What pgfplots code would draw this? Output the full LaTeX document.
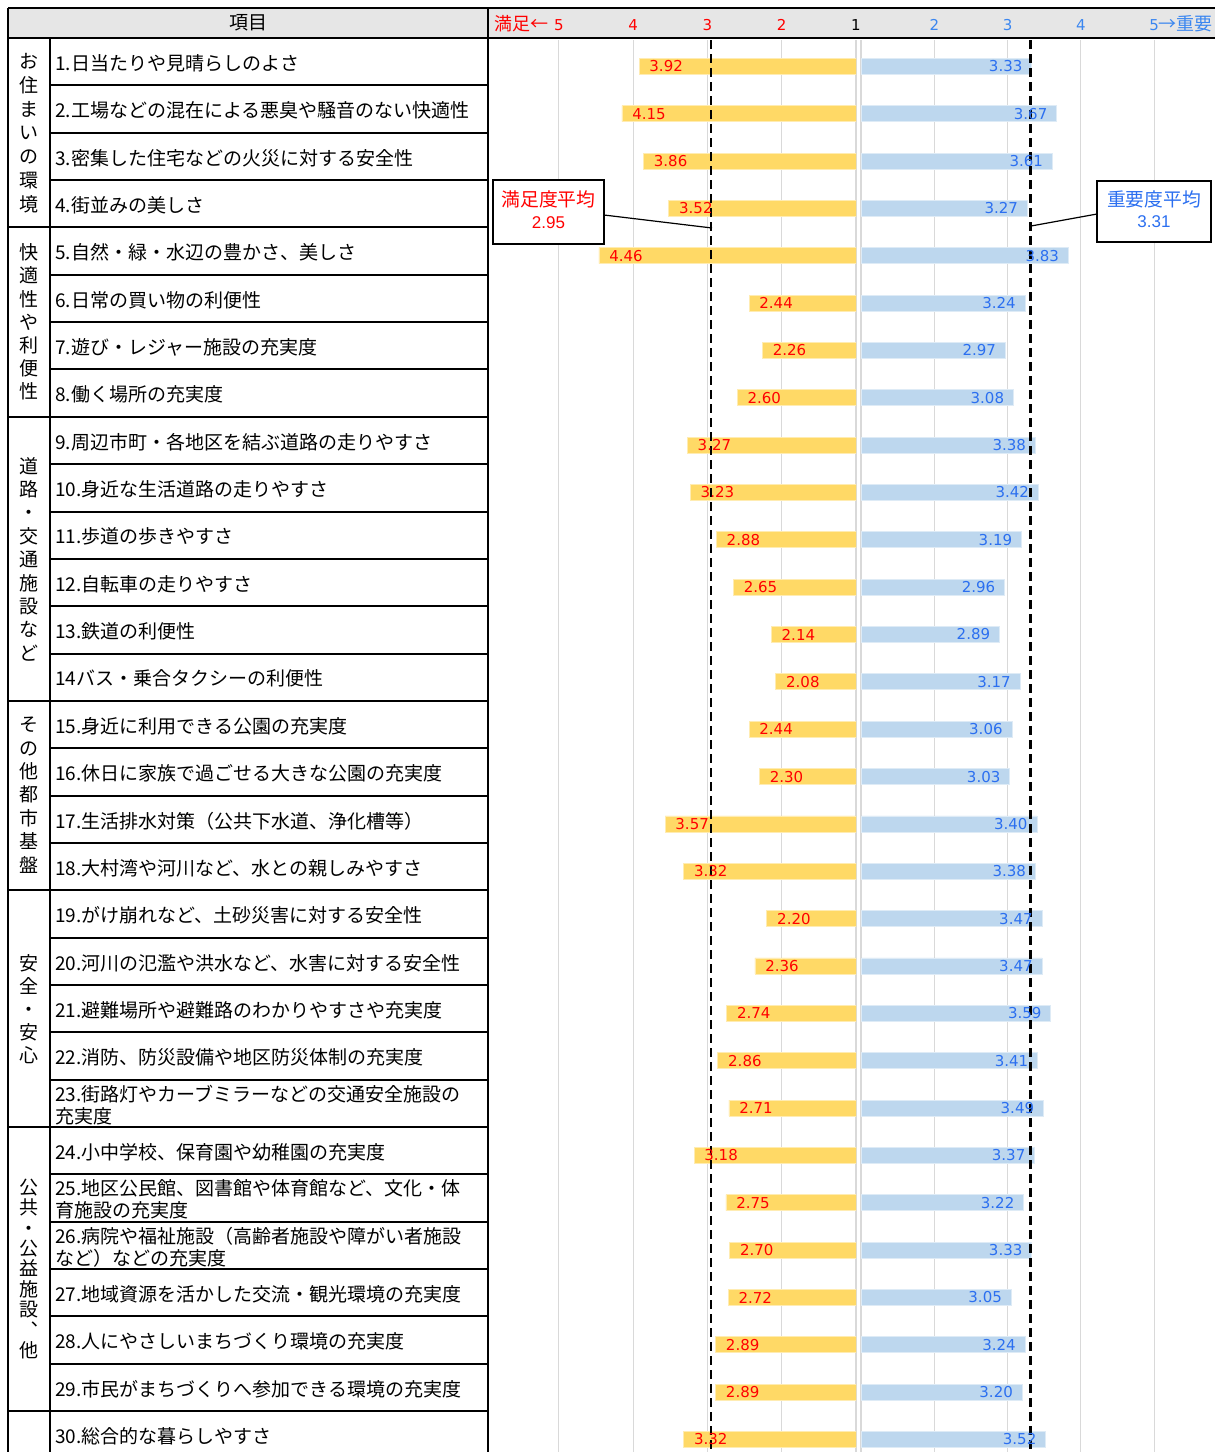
\documentclass[border=0pt]{standalone}
\usepackage{pgfplots}
\pgfplotsset{compat=1.18}
\usepackage{pgfplotstable}
\usepackage{fontspec}
\setmainfont{Noto Sans CJK JP}
\newfontfamily\numfont{DejaVu Sans}
\newfontfamily\arialfont{Liberation Sans}
\definecolor{barY}{HTML}{FFD966}
\definecolor{barB}{HTML}{BDD7EE}
\definecolor{txtR}{HTML}{FF0000}
\definecolor{txtB}{HTML}{2B6FF0}
\definecolor{tickB}{HTML}{3A86F0}
\definecolor{hdr}{HTML}{E6E6E6}
\definecolor{grd}{HTML}{D9D9D9}

\pgfplotstableread{
row sat imp
1 3.92 3.33
2 4.15 3.67
3 3.86 3.61
4 3.52 3.27
5 4.46 3.83
6 2.44 3.24
7 2.26 2.97
8 2.60 3.08
9 3.27 3.38
10 3.23 3.42
11 2.88 3.19
12 2.65 2.96
13 2.14 2.89
14 2.08 3.17
15 2.44 3.06
16 2.30 3.03
17 3.57 3.40
18 3.32 3.38
19 2.20 3.47
20 2.36 3.47
21 2.74 3.59
22 2.86 3.41
23 2.71 3.49
24 3.18 3.37
25 2.75 3.22
26 2.70 3.33
27 2.72 3.05
28 2.89 3.24
29 2.89 3.20
30 3.32 3.52
}\data

\pgfplotsset{
  chartbase/.style={
    scale only axis, anchor=north west, height=706pt,
    ymin=0.4446, ymax=30.265, y dir=reverse,
    xmin=1, ytick=\empty,
    axis line style={draw=none}, tick style={draw=none},
    xticklabel pos=upper, xtick={1,2,3,4,5},
    xmajorgrids, major grid style={grd, line width=0.6pt},
    /pgf/number format/assume math mode=true,
    xticklabel style={font=\numfont\fontsize{7.5}{8}\selectfont, anchor=base, yshift=4.8pt},
  }
}

\begin{document}
\begin{tikzpicture}[x=0.5pt,y=-0.5pt]
\useasboundingbox (0,0) rectangle (1215,1452);
\fill[hdr] (8,8) rectangle (1215,38);
\coordinate (LA) at (488,40);
\coordinate (RA) at (861,40);

\begin{axis}[chartbase, at={(LA)}, width=184pt, xmax=5.953, x dir=reverse,
  xticklabels={{\color{black}1},2,3,4,{\llap{\rmfamily\fontsize{9}{9}\selectfont 満足←\hspace{3pt}}5}},
  xticklabel style={text=txtR}]
\addplot[xbar, bar width=8pt, fill=barY, draw=barY!50!white, line width=0.4pt,
  point meta=x,
  nodes near coords={\pgfmathprintnumber[fixed,fixed zerofill,precision=2]{\pgfplotspointmeta}},
  every node near coord/.append style={anchor=west, inner sep=0pt, xshift=5pt, text=txtR, font=\numfont\fontsize{7.5}{8}\selectfont}]
  table[x=sat, y=row]{\data};
\addplot[black, line width=1.3pt, dash pattern=on 4.5pt off 2.5pt] coordinates {(2.95,0.4446) (2.95,30.265)};
\end{axis}

\begin{axis}[chartbase, at={(RA)}, width=177pt, xmax=5.83,
  xticklabels={{},2,3,4,{5\rlap{\rmfamily\fontsize{9}{9}\selectfont →重要}}},
  xticklabel style={text=tickB}]
\addplot[xbar, bar width=8pt, fill=barB, draw=barB!50!white, line width=0.4pt,
  point meta=x,
  nodes near coords={\pgfmathprintnumber[fixed,fixed zerofill,precision=2]{\pgfplotspointmeta}},
  every node near coord/.append style={anchor=east, inner sep=0pt, xshift=-4.5pt, text=txtB, font=\numfont\fontsize{7.5}{8}\selectfont}]
  table[x=imp, y=row]{\data};
\addplot[black, line width=1.3pt, dash pattern=on 4.5pt off 2.5pt] coordinates {(3.31,0.4446) (3.31,30.265)};
\end{axis}

% table lines
\draw[line width=1pt] (8,8) -- (1215,8);
\draw[line width=1.2pt] (8,38) -- (1215,38);
\draw[line width=1pt] (8,8) -- (8,1452);
\draw[line width=1pt] (50,38) -- (50,1452);
\draw[line width=1pt] (488,8) -- (488,1452);
\foreach \k in {1,...,29} \draw[line width=1pt] (50,{38+\k*47.35}) -- (488,{38+\k*47.35});
\foreach \k in {4,8,14,18,23,29} \draw[line width=1pt] (8,{38+\k*47.35}) -- (50,{38+\k*47.35});

\node[font=\fontsize{9.5}{11}\selectfont] at (248,23) {項目};

\foreach \i/\t in {
1/{1.日当たりや見晴らしのよさ},
2/{2.工場などの混在による悪臭や騒音のない快適性},
3/{3.密集した住宅などの火災に対する安全性},
4/{4.街並みの美しさ},
5/{5.自然・緑・水辺の豊かさ、美しさ},
6/{6.日常の買い物の利便性},
7/{7.遊び・レジャー施設の充実度},
8/{8.働く場所の充実度},
9/{9.周辺市町・各地区を結ぶ道路の走りやすさ},
10/{10.身近な生活道路の走りやすさ},
11/{11.歩道の歩きやすさ},
12/{12.自転車の走りやすさ},
13/{13.鉄道の利便性},
14/{14バス・乗合タクシーの利便性},
15/{15.身近に利用できる公園の充実度},
16/{16.休日に家族で過ごせる大きな公園の充実度},
17/{17.生活排水対策（公共下水道、浄化槽等）},
18/{18.大村湾や河川など、水との親しみやすさ},
19/{19.がけ崩れなど、土砂災害に対する安全性},
20/{20.河川の氾濫や洪水など、水害に対する安全性},
21/{21.避難場所や避難路のわかりやすさや充実度},
22/{22.消防、防災設備や地区防災体制の充実度},
23/{23.街路灯やカーブミラーなどの交通安全施設の\\充実度},
24/{24.小中学校、保育園や幼稚園の充実度},
25/{25.地区公民館、図書館や体育館など、文化・体\\育施設の充実度},
26/{26.病院や福祉施設（高齢者施設や障がい者施設\\など）などの充実度},
27/{27.地域資源を活かした交流・観光環境の充実度},
28/{28.人にやさしいまちづくり環境の充実度},
29/{29.市民がまちづくりへ参加できる環境の充実度},
30/{30.総合的な暮らしやすさ}}
{\node[anchor=west, inner sep=0pt, align=left, font=\fontsize{9.5}{11}\selectfont] at (55,{38+(\i-0.5)*47.35+1.5}) {\t};}

% categories
\node[align=center, inner sep=0pt, font=\fontsize{9.5}{11.9}\selectfont] at (29,133) {お\\住\\ま\\い\\の\\環\\境};
\node[align=center, inner sep=0pt, font=\fontsize{9.5}{11.6}\selectfont] at (29,322) {快\\適\\性\\や\\利\\便\\性};
\node[align=center, inner sep=0pt, font=\fontsize{9.5}{11.7}\selectfont] at (29,559) {道\\路\\・\\交\\通\\施\\設\\な\\ど};
\node[align=center, inner sep=0pt, font=\fontsize{9.5}{11.7}\selectfont] at (29,795) {そ\\の\\他\\都\\市\\基\\盤};
\node[align=center, inner sep=0pt, font=\fontsize{9.5}{11.5}\selectfont] at (29,1009) {安\\全\\・\\安\\心};
\node[align=center, inner sep=0pt, font=\fontsize{9.5}{10.2}\selectfont] at (29,1269) {公\\共\\・\\公\\益\\施\\設\\︑\\他};

% callouts
\draw[line width=0.6pt] (604,215) -- (712,228);
\draw[line width=0.75pt, fill=white] (493,180) rectangle (604,244);
\node[text=txtR, font=\fontsize{9.4}{10}\selectfont] at (548.5,199) {満足度平均};
\node[text=txtR, font=\arialfont\fontsize{8.5}{9}\selectfont] at (548.5,223) {2.95};
\draw[line width=0.6pt] (1097,214) -- (1031,226);
\draw[line width=0.75pt, fill=white] (1097,181) rectangle (1211,242);
\node[text=txtB, font=\fontsize{9.4}{10}\selectfont] at (1154,199) {重要度平均};
\node[text=txtB, font=\arialfont\fontsize{8.5}{9}\selectfont] at (1154,222) {3.31};
\end{tikzpicture}
\end{document}
